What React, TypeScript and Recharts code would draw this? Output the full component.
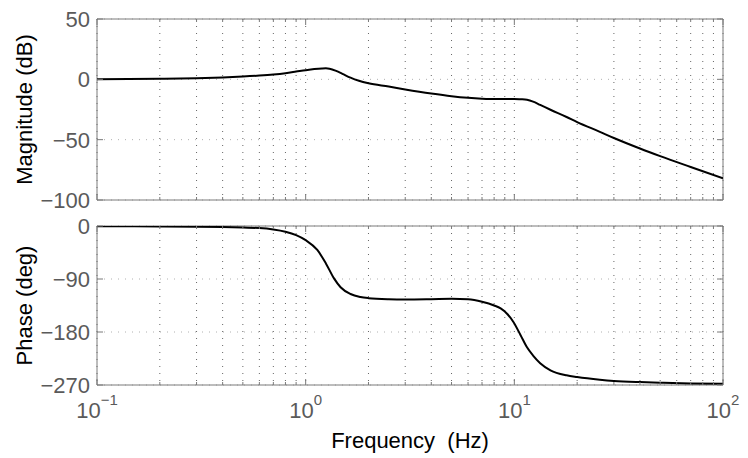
import React from 'react';
import { LineChart, Line, XAxis, YAxis, CartesianGrid, ReferenceArea } from 'recharts';

// Magnitude plot: frequency samples (Hz) and magnitude (dB)
const magFreq = [0.1, 0.2, 0.3, 0.4, 0.5, 0.6, 0.7, 0.8, 0.9, 1.0, 1.1, 1.2, 1.25, 1.3, 1.4, 1.5, 1.64, 1.8, 2, 2.5, 3, 4, 5, 6, 7, 8, 9, 10, 10.7, 11.5, 12.3, 13.3, 14.9, 17.8, 20, 25.7, 30, 40, 50, 70, 100];
const magnitude = [0, 0.5, 1.0, 1.6, 2.3, 3.1, 4.0, 5.1, 6.4, 7.6, 8.5, 9.0, 9.1, 8.8, 7.0, 4.6, 1.4, -1.2, -3.3, -6.0, -8.4, -11.8, -14.0, -15.3, -16.0, -16.3, -16.2, -16.2, -16.5, -17.0, -18.5, -21.2, -25.2, -31.2, -35.4, -43.5, -48.6, -57.3, -63.6, -72.6, -82];

// Phase plot: frequency samples (Hz) and phase (deg)
const phaseFreq = [0.1, 0.2, 0.3, 0.4, 0.5, 0.6, 0.7, 0.8, 0.9, 1.0, 1.137, 1.25, 1.367, 1.47, 1.64, 1.83, 2, 2.5, 3, 4, 5, 6, 7, 8, 8.6, 9.2, 9.9, 10.7, 11.5, 12.3, 13.3, 14.9, 17.8, 20, 25.7, 30, 40, 50, 70, 100];
const phase = [-0.3, -0.8, -1.3, -1.9, -2.7, -3.6, -6, -9.8, -15.5, -24, -40.7, -63.5, -89, -104, -115.5, -120.6, -122.5, -124.3, -124.7, -124.2, -123.6, -124.5, -128.7, -135, -140, -148.6, -163, -185, -206, -220, -233, -245, -253.6, -256.5, -261, -263, -265, -266, -267.3, -268];

const xTicks = [0.1, 0.2, 0.3, 0.4, 0.5, 0.6, 0.7, 0.8, 0.9, 1, 2, 3, 4, 5, 6, 7, 8, 9, 10, 20, 30, 40, 50, 60, 70, 80, 90, 100];
const magTicks = [50, 0, -50, -100];
const phaseTicks = [0, -90, -180, -270];

const magData = magFreq.map((f, i) => ({ f, mag: magnitude[i] }));
const phaseData = phaseFreq.map((f, i) => ({ f, phase: phase[i] }));

const FONT = 'Liberation Sans, Arial, Helvetica, sans-serif';
const PLOT_W = 626;
const TOP_H = 181;
const BOT_H = 159;
const FRAME = '#7a7a7a';

const fmt = (v: number) => String(v).replace('-', '\u2212');

const makeXTick = (plotH: number, showLabel: boolean) => (props: any) => {
  const { x, y, payload } = props;
  const v = payload.value;
  const lg = Math.log10(v);
  const major = Math.abs(lg - Math.round(lg)) < 1e-6;
  const len = major ? 6 : 3;
  return (
    <g>
      <line x1={x} x2={x} y1={y} y2={y - len} stroke={FRAME} />
      <line x1={x} x2={x} y1={y - plotH} y2={y - plotH + len} stroke={FRAME} />
      {showLabel && major && (
        <text x={x} y={y + 33} textAnchor="middle" fill="#5a5a5a" fontSize={22} fontFamily={FONT}>
          10<tspan dy={-13} fontSize={15}>{fmt(Math.round(lg))}</tspan>
        </text>
      )}
    </g>
  );
};

const makeYTick = (plotW: number) => (props: any) => {
  const { x, y, payload } = props;
  return (
    <g>
      <line x1={x} x2={x + 6} y1={y} y2={y} stroke={FRAME} />
      <line x1={x + plotW} x2={x + plotW - 6} y1={y} y2={y} stroke={FRAME} />
      <text x={x - 7} y={y} dy="0.36em" textAnchor="end" fill="#5a5a5a" fontSize={22} fontFamily={FONT}>
        {fmt(payload.value)}
      </text>
    </g>
  );
};

const yLabel = (text: string) => (p: any) => {
  const vb = p.viewBox || {};
  const cx = 32;
  const cy = vb.y + vb.height / 2;
  return (
    <text x={cx} y={cy} textAnchor="middle" transform={`rotate(-90 ${cx} ${cy})`} fill="#000" fontSize={22} fontFamily={FONT}>
      {text}
    </text>
  );
};

const xLabel = (p: any) => {
  const vb = p.viewBox || {};
  return (
    <text x={vb.x + vb.width / 2} y={vb.y + 63} textAnchor="middle" fill="#000" fontSize={22} fontFamily={FONT} style={{ whiteSpace: 'pre' }}>
      {'Frequency  (Hz)'}
    </text>
  );
};

export default function App() {
  return (
    <div style={{ position: 'absolute', left: 0, top: 0, width: 748, height: 458, background: '#fff' }}>
      <div style={{ position: 'absolute', left: 0, top: 0 }}>
        <LineChart width={748} height={213} data={magData} margin={{ top: 19, right: 25, bottom: 0, left: 0 }}>
          <CartesianGrid horizontal={false} stroke="#666" strokeDasharray="1 6" />
          <CartesianGrid vertical={false} stroke="#b0b0b0" strokeDasharray="1 6" />
          <XAxis dataKey="f" type="number" scale="log" domain={[0.1, 100]} allowDataOverflow ticks={xTicks} interval={0}
            height={13} tickSize={0} tickMargin={0} axisLine={false} tickLine={false} tick={makeXTick(TOP_H, false)} />
          <YAxis type="number" domain={[-100, 50]} allowDataOverflow ticks={magTicks} interval={0} width={97}
            tickSize={0} tickMargin={0} axisLine={false} tickLine={false} tick={makeYTick(PLOT_W)} label={yLabel('Magnitude (dB)')} />
          <Line type="monotone" dataKey="mag" stroke="#000" strokeWidth={2} dot={false} isAnimationActive={false} />
          <ReferenceArea x1={0.1} x2={100} y1={-100} y2={50} fill="none" fillOpacity={0} stroke={FRAME} strokeWidth={1} />
        </LineChart>
      </div>
      <div style={{ position: 'absolute', left: 0, top: 205 }}>
        <LineChart width={748} height={253} data={phaseData} margin={{ top: 21, right: 25, bottom: 0, left: 0 }}>
          <CartesianGrid horizontal={false} stroke="#666" strokeDasharray="1 6" />
          <CartesianGrid vertical={false} stroke="#b0b0b0" strokeDasharray="1 6" />
          <XAxis dataKey="f" type="number" scale="log" domain={[0.1, 100]} allowDataOverflow ticks={xTicks} interval={0}
            height={73} tickSize={0} tickMargin={0} axisLine={false} tickLine={false} tick={makeXTick(BOT_H, true)} label={xLabel} />
          <YAxis type="number" domain={[-270, 0]} allowDataOverflow ticks={phaseTicks} interval={0} width={97}
            tickSize={0} tickMargin={0} axisLine={false} tickLine={false} tick={makeYTick(PLOT_W)} label={yLabel('Phase (deg)')} />
          <Line type="monotone" dataKey="phase" stroke="#000" strokeWidth={2} dot={false} isAnimationActive={false} />
          <ReferenceArea x1={0.1} x2={100} y1={-270} y2={0} fill="none" fillOpacity={0} stroke={FRAME} strokeWidth={1} />
        </LineChart>
      </div>
    </div>
  );
}
